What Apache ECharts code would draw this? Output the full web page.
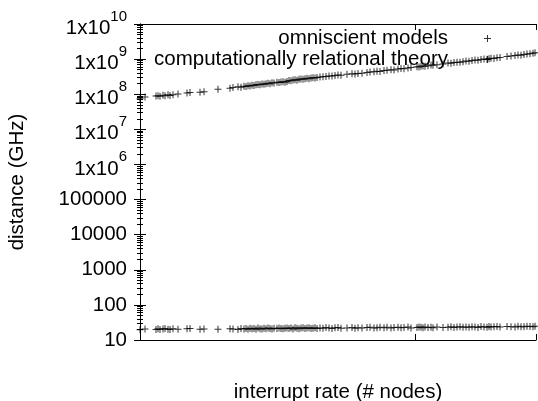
<!DOCTYPE html>
<html>
<head>
<meta charset="utf-8">
<script src="https://cdn.jsdelivr.net/npm/echarts@6/dist/echarts.min.js"></script>
<style>html,body{margin:0;padding:0;background:#fff}#c{width:538px;height:401px}</style>
</head>
<body>
<div id="c"></div>
<script>
// x positions of the measurements (arbitrary units, axis has no labels)
const xValues = [0,5,16,18,20,23,25,28,30,33,
38,47,50,60,64,78,90,93,98,101,
104,106,108,110,112,114,116,118,120,122,
124,126,128,130,132,134,137,139,141,143,
145,147,149,151,153,155,157,159,161,163,
165,167,169,171,173,175,177,180,183,186,
189,192,195,198,201,207,212,215,218,222,
227,230,234,237,240,244,247,251,254,258,
261,264,268,271,277,279,281,283,285,288,
291,293,297,303,308,311,314,317,320,323,
326,329,332,335,338,341,344,347,349,351,
354,357,360,367,371,375,378,381,384,387,
390,393,395];

const omniscientModels = [7.4e7,8.3e7,8.9e7,9.1e7,8.8e7,9.3e7,9.0e7,9.6e7,9.2e7,9.7e7,
1.02e8,1.08e8,1.12e8,1.13e8,1.18e8,1.38e8,1.48e8,1.55e8,1.62e8,1.58e8,
1.7e8,1.66e8,1.75e8,1.72e8,1.8e8,1.78e8,1.85e8,1.9e8,1.86e8,1.95e8,
1.92e8,2.0e8,2.05e8,2.0e8,2.12e8,2.1e8,2.18e8,2.15e8,2.22e8,2.26e8,
2.2e8,2.3e8,2.45e8,2.4e8,2.55e8,2.6e8,2.52e8,2.65e8,2.72e8,2.66e8,
2.78e8,2.84e8,2.76e8,2.9e8,2.95e8,2.88e8,3.0e8,3.08e8,3.14e8,3.2e8,
3.32e8,3.28e8,3.4e8,3.5e8,3.45e8,3.68e8,3.8e8,3.75e8,3.92e8,3.98e8,
4.15e8,4.28e8,4.4e8,4.52e8,4.46e8,4.7e8,4.85e8,4.98e8,4.9e8,5.2e8,
5.4e8,5.35e8,5.6e8,5.8e8,6.1e8,6.0e8,6.25e8,6.35e8,6.3e8,6.5e8,
6.75e8,6.65e8,6.95e8,7.3e8,7.7e8,7.6e8,7.95e8,8.2e8,8.1e8,8.45e8,
8.8e8,8.7e8,9.1e8,9.4e8,9.3e8,9.7e8,1.0e9,9.9e8,1.03e9,1.06e9,
1.04e9,1.09e9,1.12e9,1.18e9,1.22e9,1.26e9,1.3e9,1.28e9,1.35e9,1.4e9,
1.43e9,1.48e9,1.52e9];

const relationalTheory = [19.5,20.5,20,21,19.8,20.6,21.2,20.3,19.9,20.8,
20.4,20.9,21.3,20.1,20.7,20.2,21,20.5,19.8,21.4,
20.6,21.1,20.3,21.6,20.9,21.2,20.4,21.8,21,20.7,
21.5,20.8,21.9,21.3,20.6,21.7,21.1,22,21.4,20.9,
21.6,22.1,21.2,21.8,20.7,22.2,21.5,21,21.9,22.3,
21.4,21.8,22.4,21.1,21.7,22.5,21.3,22,21.6,22.6,
21.9,21.2,22.3,22.7,21.5,22.1,22.8,21.7,22.4,21.9,
22.6,23,21.8,22.5,22.9,22.2,23.1,21.9,22.7,23.2,
22.4,22.8,23.3,22.1,22.6,23.4,22.9,22.3,23.5,22.7,
23.1,22.5,23.6,22.8,23.2,23.7,22.6,23.4,23.9,22.9,
23.5,23.1,24,23.3,22.8,24.1,23.6,23.2,24.2,23.4,
23.8,24.3,23.5,24.4,23.9,23.3,24.5,24,23.7,24.6,
24.2,23.8,24.7];

const seriesNames = ['omniscient models', 'computationally relational theory'];
const xRange = [0, 396];
const xTickStep = 275;
const yRange = [10, 1e10];

const FONT = "'Liberation Sans', Arial, Helvetica, sans-serif";
const FS = 20.5;
const plus = 'path://M0,3h7v1h-7zM3,0h1v7h-1z';

function pairs(xs, ys) { return xs.map((x, i) => [x, ys[i]]); }

function yLabel(v) {
  const n = Math.round(Math.log10(v));
  if (n <= 5) return String(Math.pow(10, n));
  return '{a|1x10}{b|' + n + '}';
}

const axisLineStyle = { show: true, lineStyle: { color: '#000', width: 1 } };

const chart = echarts.init(document.getElementById('c'), null, { renderer: 'canvas' });
chart.setOption({
  animation: false,
  backgroundColor: '#fff',
  textStyle: { fontFamily: FONT, color: '#000' },
  grid: { left: 140, right: 2, top: 24, bottom: 61, containLabel: false, outerBoundsMode: 'none' },
  legend: {
    orient: 'vertical',
    align: 'right',
    right: 47,
    top: 28,
    padding: 0,
    itemGap: 0,
    itemWidth: 7,
    itemHeight: 7,
    data: seriesNames,
    textStyle: { fontFamily: FONT, fontSize: FS, lineHeight: 21, color: '#000', padding: [0, 31, 0, 0] }
  },
  xAxis: [{
    type: 'value', min: xRange[0], max: xRange[1], interval: xTickStep,
    position: 'bottom',
    name: 'interrupt rate (# nodes)', nameLocation: 'middle', nameGap: 42,
    nameTextStyle: { fontFamily: FONT, fontSize: FS, color: '#000' },
    axisLine: axisLineStyle,
    axisTick: { show: true, inside: true, length: 6, lineStyle: { color: '#000' } },
    axisLabel: { show: false },
    splitLine: { show: false }
  }, {
    type: 'value', min: xRange[0], max: xRange[1], interval: xTickStep,
    position: 'top',
    axisLine: axisLineStyle,
    axisTick: { show: true, inside: true, length: 6, lineStyle: { color: '#000' } },
    axisLabel: { show: false },
    splitLine: { show: false }
  }],
  yAxis: [{
    type: 'log', logBase: 10, min: yRange[0], max: yRange[1], splitNumber: 9,
    position: 'left',
    name: 'distance (GHz)', nameLocation: 'middle', nameGap: 112,
    nameTextStyle: { fontFamily: FONT, fontSize: FS, color: '#000' },
    axisLine: axisLineStyle,
    axisTick: { show: true, inside: true, length: 6, lineStyle: { color: '#000' } },
    minorTick: { show: true, splitNumber: 9, length: 3, lineStyle: { color: '#000' } },
    axisLabel: {
      show: true, margin: 13, fontFamily: FONT, fontSize: FS, color: '#000',
      formatter: yLabel,
      rich: {
        a: { fontFamily: FONT, fontSize: FS, color: '#000', lineHeight: 30, verticalAlign: 'bottom' },
        b: { fontFamily: FONT, fontSize: 15, color: '#000', lineHeight: 15, verticalAlign: 'top' }
      }
    },
    splitLine: { show: false }
  }, {
    type: 'log', logBase: 10, min: yRange[0], max: yRange[1], splitNumber: 9,
    position: 'right',
    axisLine: axisLineStyle,
    axisTick: { show: true, inside: true, length: 6, lineStyle: { color: '#000' } },
    minorTick: { show: true, splitNumber: 9, length: 3, lineStyle: { color: '#000' } },
    axisLabel: { show: false },
    splitLine: { show: false }
  }],
  series: [{
    name: seriesNames[0], type: 'scatter', xAxisIndex: 0, yAxisIndex: 0,
    symbol: plus, symbolSize: 7, symbolKeepAspect: true,
    itemStyle: { color: '#000' },
    data: pairs(xValues, omniscientModels)
  }, {
    name: seriesNames[1], type: 'scatter', xAxisIndex: 0, yAxisIndex: 0,
    symbol: plus, symbolSize: 7, symbolKeepAspect: true,
    itemStyle: { color: '#000' },
    data: pairs(xValues, relationalTheory)
  }]
});
</script>
</body>
</html>
